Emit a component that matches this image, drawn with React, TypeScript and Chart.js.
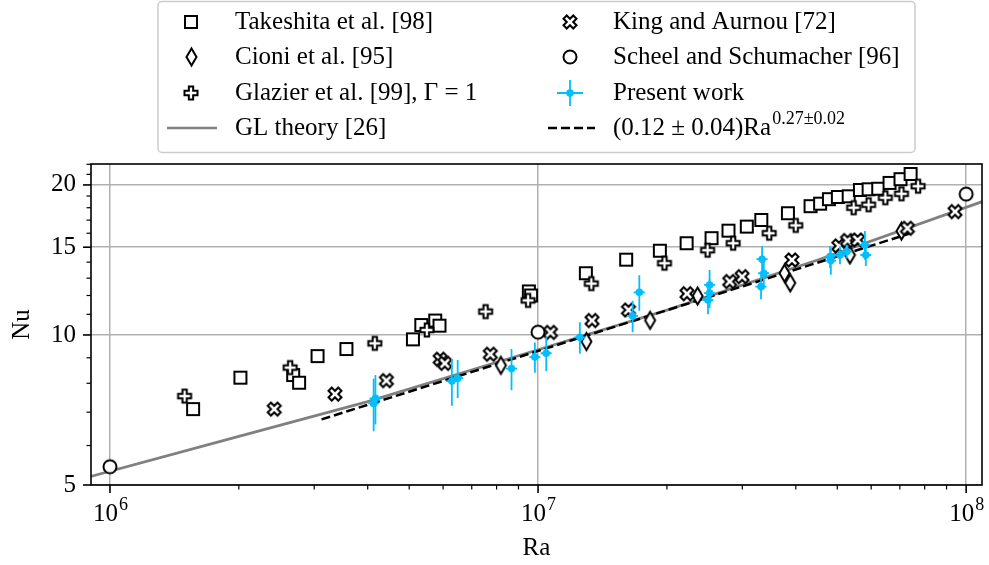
import React, { useEffect, useRef } from "react";
import { Chart, registerables } from "chart.js";

Chart.register(...registerables);

// ---------------- data ----------------
const takeshitaRa = [1.564e6, 2.017e6, 2.679e6, 2.766e6, 3.054e6, 3.567e6, 5.101e6, 5.336e6, 5.751e6, 5.885e6, 9.515e6, 9.632e6, 1.293e7, 1.606e7, 1.925e7, 2.223e7, 2.542e7, 2.785e7, 3.073e7, 3.322e7, 3.834e7, 4.33e7, 4.558e7, 4.78e7, 5.016e7, 5.315e7, 5.648e7, 5.917e7, 6.232e7, 6.623e7, 7.024e7, 7.418e7];
const takeshitaNu = [7.1, 8.21, 8.31, 8.02, 9.07, 9.37, 9.8, 10.47, 10.69, 10.44, 12.23, 12.0, 13.3, 14.16, 14.76, 15.28, 15.64, 16.19, 16.5, 17.01, 17.55, 18.13, 18.34, 18.73, 18.92, 18.98, 19.54, 19.6, 19.65, 20.19, 20.54, 21.04];

const cioniRa = [8.19e6, 1.297e7, 1.827e7, 2.359e7, 3.763e7, 3.882e7, 5.352e7, 7.061e7];
const cioniNu = [8.69, 9.7, 10.7, 11.97, 13.3, 12.72, 14.47, 16.16];

const glazierRa = [1.494e6, 2.636e6, 4.155e6, 5.498e6, 7.541e6, 9.478e6, 1.332e7, 1.974e7, 2.489e7, 2.856e7, 3.467e7, 3.998e7, 5.46e7, 5.917e7, 6.475e7, 7.061e7, 7.722e7];
const glazierNu = [7.54, 8.6, 9.62, 10.23, 11.14, 11.73, 12.68, 13.93, 14.79, 15.28, 16.0, 16.59, 18.0, 18.25, 18.85, 19.2, 19.88];

const kingRa = [2.419e6, 3.354e6, 4.424e6, 5.907e6, 6.054e6, 7.734e6, 1.069e7, 1.337e7, 1.626e7, 2.228e7, 2.804e7, 2.997e7, 3.917e7, 5.043e7, 5.282e7, 5.578e7, 7.292e7, 9.419e7];
const kingNu = [7.1, 7.61, 8.1, 8.94, 8.77, 9.15, 10.12, 10.69, 11.22, 12.1, 12.8, 13.09, 14.14, 15.09, 15.47, 15.51, 16.37, 17.68];

const scheelRa = [1e6, 1e7, 1e8];
const scheelNu = [5.44, 10.13, 19.17];

const presentRa = [4.13e6, 4.17e6, 6.29e6, 6.49e6, 8.67e6, 9.83e6, 1.045e7, 1.252e7, 1.663e7, 1.724e7, 2.516e7, 2.516e7, 2.494e7, 3.337e7, 3.367e7, 3.318e7, 4.81e7, 4.83e7, 5.073e7, 5.259e7, 5.8e7, 5.83e7];
const presentNu = [7.29, 7.46, 8.08, 8.19, 8.56, 9.03, 9.19, 9.89, 10.92, 12.18, 12.6, 12.13, 11.75, 14.19, 13.3, 12.5, 14.36, 14.1, 14.47, 14.7, 15.16, 14.47];
const presentNuErr = [0.88, 0.85, 0.87, 0.72, 0.81, 0.63, 0.72, 0.72, 0.79, 1.0, 0.9, 0.8, 0.75, 0.9, 0.85, 0.7, 0.73, 0.9, 0.6, 0.47, 1.0, 0.72];
const presentRaErr = [1.2e5, 1.3e5, 1.9e5, 1.9e5, 2.6e5, 2.9e5, 3.1e5, 3.8e5, 5.0e5, 5.2e5, 7.5e5, 7.5e5, 7.5e5, 1.0e6, 1.0e6, 1.0e6, 1.4e6, 1.4e6, 1.5e6, 1.6e6, 1.7e6, 1.7e6];

const glRa = [9.0e5, 2e6, 4e6, 1e7, 2e7, 4.5e7, 1.09e8];
const glNu = [5.2, 6.26, 7.35, 9.34, 11.22, 14.14, 18.51];

const fitRa = [3.12e6, 7.37e7];
const fitNu = [6.77, 15.97];

const xTickValues = [9e5, 1e6, 2e6, 3e6, 4e6, 5e6, 6e6, 7e6, 8e6, 9e6, 1e7, 2e7, 3e7, 4e7, 5e7, 6e7, 7e7, 8e7, 9e7, 1e8];
const xMajorTicks = [1e6, 1e7, 1e8];
const xMajorExponents = ["6", "7", "8"];
const yTickValues = [5, 6, 7, 8, 9, 10, 11, 12, 13, 14, 15, 16, 17, 18, 19, 20, 21, 22];
const yMajorTicks = [5, 10, 15, 20];

const X_MIN = 9.03e5;
const X_MAX = 1.089e8;
const Y_MIN = 5;
const Y_MAX = 22.03;

// ---------------- styles ----------------
const FONT = '"Liberation Serif", "DejaVu Serif", serif';
const FS = 25;
const BLUE = "#00bfff";
const GRID = "#b0b0b0";

function makeMarker(kind: string): HTMLCanvasElement {
  const c = document.createElement("canvas");
  let w = 18, h = 18;
  if (kind === "diamond") { w = 15; h = 22; }
  c.width = w; c.height = h;
  const g = c.getContext("2d") as CanvasRenderingContext2D;
  const cx = w / 2, cy = h / 2;
  g.beginPath();
  if (kind === "square") {
    g.rect(cx - 6, cy - 6, 12, 12);
  } else if (kind === "diamond") {
    g.moveTo(cx, cy - 8.5); g.lineTo(cx + 5, cy); g.lineTo(cx, cy + 8.5); g.lineTo(cx - 5, cy); g.closePath();
  } else if (kind === "circle") {
    g.arc(cx, cy, 6.5, 0, Math.PI * 2);
  } else if (kind === "plus") {
    const k = 13 / 6;
    const pts = [[-1, -3], [1, -3], [1, -1], [3, -1], [3, 1], [1, 1], [1, 3], [-1, 3], [-1, 1], [-3, 1], [-3, -1], [-1, -1]];
    pts.forEach((p, i) => (i ? g.lineTo(cx + p[0] * k, cy + p[1] * k) : g.moveTo(cx + p[0] * k, cy + p[1] * k)));
    g.closePath();
  } else if (kind === "x") {
    const k = 13 / 4;
    const pts = [[-1, -2], [0, -1], [1, -2], [2, -1], [1, 0], [2, 1], [1, 2], [0, 1], [-1, 2], [-2, 1], [-1, 0], [-2, -1]];
    pts.forEach((p, i) => (i ? g.lineTo(cx + p[0] * k, cy + p[1] * k) : g.moveTo(cx + p[0] * k, cy + p[1] * k)));
    g.closePath();
  }
  g.fillStyle = "#fff";
  g.fill();
  g.lineWidth = 2;
  g.strokeStyle = "#000";
  g.lineJoin = "miter";
  g.stroke();
  return c;
}

const pts = (xs: number[], ys: number[]) => xs.map((x, i) => ({ x, y: ys[i] }));

export default function App() {
  const ref = useRef<HTMLCanvasElement | null>(null);

  useEffect(() => {
    const canvas = ref.current;
    if (!canvas) return;
    const mSquare = makeMarker("square");
    const mDiamond = makeMarker("diamond");
    const mCircle = makeMarker("circle");
    const mPlus = makeMarker("plus");
    const mX = makeMarker("x");

    const errorBarPlugin = {
      id: "errbars",
      beforeDatasetDraw(chart: any, args: any) {
        const ds = chart.data.datasets[args.index];
        if (ds.label !== "Present work") return;
        const { ctx, chartArea } = chart;
        const xs = chart.scales.x, ys = chart.scales.y;
        ctx.save();
        ctx.beginPath();
        ctx.rect(chartArea.left, chartArea.top, chartArea.right - chartArea.left, chartArea.bottom - chartArea.top);
        ctx.clip();
        ctx.strokeStyle = BLUE;
        ctx.lineWidth = 1.8;
        presentRa.forEach((ra, i) => {
          const nu = presentNu[i];
          const px = xs.getPixelForValue(ra);
          const py = ys.getPixelForValue(nu);
          ctx.beginPath();
          ctx.moveTo(px, ys.getPixelForValue(nu + presentNuErr[i]));
          ctx.lineTo(px, ys.getPixelForValue(nu - presentNuErr[i]));
          ctx.moveTo(xs.getPixelForValue(ra - presentRaErr[i]), py);
          ctx.lineTo(xs.getPixelForValue(ra + presentRaErr[i]), py);
          ctx.stroke();
        });
        ctx.restore();
      },
    };

    const decorPlugin = {
      id: "decor",
      afterDraw(chart: any) {
        const { ctx, chartArea } = chart;
        const { left, right, top, bottom } = chartArea;
        const xs = chart.scales.x, ys = chart.scales.y;
        ctx.save();
        // spines
        ctx.strokeStyle = "#000";
        ctx.lineWidth = 1.6;
        ctx.strokeRect(left, top, right - left, bottom - top);
        // x ticks
        xTickValues.forEach((v) => {
          const px = xs.getPixelForValue(v);
          if (px < left - 0.5 || px > right + 0.5) return;
          const major = xMajorTicks.includes(v);
          ctx.lineWidth = major ? 1.6 : 1.2;
          ctx.beginPath();
          ctx.moveTo(px, bottom);
          ctx.lineTo(px, bottom + (major ? 8 : 4.5));
          ctx.stroke();
        });
        // y ticks
        yTickValues.forEach((v) => {
          const py = ys.getPixelForValue(v);
          if (py < top - 0.5 || py > bottom + 0.5) return;
          const major = yMajorTicks.includes(v);
          ctx.lineWidth = major ? 1.6 : 1.2;
          ctx.beginPath();
          ctx.moveTo(left, py);
          ctx.lineTo(left - (major ? 8 : 4.5), py);
          ctx.stroke();
        });
        // x tick labels (10^n)
        ctx.fillStyle = "#000";
        ctx.textBaseline = "alphabetic";
        ctx.textAlign = "left";
        xMajorTicks.forEach((v, i) => {
          const px = xs.getPixelForValue(v);
          ctx.font = `${FS}px ${FONT}`;
          const wb = ctx.measureText("10").width;
          ctx.font = `${Math.round(FS * 0.7)}px ${FONT}`;
          const we = ctx.measureText(xMajorExponents[i]).width;
          const x0 = px - (wb + we) / 2;
          ctx.font = `${FS}px ${FONT}`;
          ctx.fillText("10", x0, bottom + 36);
          ctx.font = `${Math.round(FS * 0.7)}px ${FONT}`;
          ctx.fillText(xMajorExponents[i], x0 + wb + 1, bottom + 25);
        });

        // legend
        const lx = 158, ly = 1.5, lw = 757, lh = 151, r = 4;
        ctx.beginPath();
        ctx.moveTo(lx + r, ly);
        ctx.arcTo(lx + lw, ly, lx + lw, ly + lh, r);
        ctx.arcTo(lx + lw, ly + lh, lx, ly + lh, r);
        ctx.arcTo(lx, ly + lh, lx, ly, r);
        ctx.arcTo(lx, ly, lx + lw, ly, r);
        ctx.closePath();
        ctx.fillStyle = "rgba(255,255,255,0.85)";
        ctx.fill();
        ctx.strokeStyle = "#cccccc";
        ctx.lineWidth = 1.5;
        ctx.stroke();

        const rows = [22, 57, 93, 128];
        const c1m = 191, c1t = 235, c2m = 570, c2t = 613;
        const drawImg = (img: HTMLCanvasElement, x: number, y: number) =>
          ctx.drawImage(img, Math.round(x - img.width / 2), Math.round(y - img.height / 2));
        drawImg(mSquare, c1m, rows[0]);
        drawImg(mDiamond, c1m, rows[1]);
        drawImg(mPlus, c1m, rows[2]);
        ctx.strokeStyle = "#808080";
        ctx.lineWidth = 2.5;
        ctx.setLineDash([]);
        ctx.beginPath();
        ctx.moveTo(167, rows[3]);
        ctx.lineTo(217, rows[3]);
        ctx.stroke();
        drawImg(mX, c2m, rows[0]);
        drawImg(mCircle, c2m, rows[1]);
        // present work handle
        ctx.strokeStyle = BLUE;
        ctx.lineWidth = 1.8;
        ctx.beginPath();
        ctx.moveTo(c2m - 13, rows[2]);
        ctx.lineTo(c2m + 13, rows[2]);
        ctx.moveTo(c2m, rows[2] - 13);
        ctx.lineTo(c2m, rows[2] + 13);
        ctx.stroke();
        ctx.fillStyle = BLUE;
        ctx.beginPath();
        ctx.arc(c2m, rows[2], 3.8, 0, Math.PI * 2);
        ctx.fill();
        // fit handle
        ctx.strokeStyle = "#000";
        ctx.lineWidth = 2.5;
        ctx.setLineDash([9, 4]);
        ctx.beginPath();
        ctx.moveTo(548, rows[3]);
        ctx.lineTo(595, rows[3]);
        ctx.stroke();
        ctx.setLineDash([]);

        ctx.fillStyle = "#000";
        ctx.textBaseline = "middle";
        ctx.textAlign = "left";
        ctx.font = `${FS}px ${FONT}`;
        ctx.fillText("Takeshita et al. [98]", c1t, rows[0]);
        ctx.fillText("Cioni et al. [95]", c1t, rows[1]);
        ctx.fillText("Glazier et al. [99], Γ = 1", c1t, rows[2]);
        ctx.fillText("GL theory [26]", c1t, rows[3]);
        ctx.fillText("King and Aurnou [72]", c2t, rows[0]);
        ctx.fillText("Scheel and Schumacher [96]", c2t, rows[1]);
        ctx.fillText("Present work", c2t, rows[2]);
        const base = "(0.12 ± 0.04)Ra";
        ctx.fillText(base, c2t, rows[3]);
        const bw = ctx.measureText(base).width;
        ctx.font = `${Math.round(FS * 0.7)}px ${FONT}`;
        ctx.fillText("0.27±0.02", c2t + bw + 1, rows[3] - 9);
        ctx.restore();
      },
    };

    const chart = new Chart(canvas, {
      type: "scatter",
      data: {
        datasets: [
          {
            label: "Present work",
            data: pts(presentRa, presentNu),
            pointStyle: "circle",
            pointRadius: 3.8,
            backgroundColor: BLUE,
            borderWidth: 0,
          },
          { label: "Scheel and Schumacher [96]", data: pts(scheelRa, scheelNu), pointStyle: mCircle, pointRadius: 6 },
          { label: "King and Aurnou [72]", data: pts(kingRa, kingNu), pointStyle: mX, pointRadius: 6 },
          { label: "Glazier et al. [99]", data: pts(glazierRa, glazierNu), pointStyle: mPlus, pointRadius: 6 },
          { label: "Cioni et al. [95]", data: pts(cioniRa, cioniNu), pointStyle: mDiamond, pointRadius: 6 },
          { label: "Takeshita et al. [98]", data: pts(takeshitaRa, takeshitaNu), pointStyle: mSquare, pointRadius: 6 },
          {
            label: "fit",
            data: pts(fitRa, fitNu),
            showLine: true,
            pointRadius: 0,
            borderColor: "#000",
            borderWidth: 2.5,
            borderDash: [9, 4],
            fill: false,
            tension: 0,
          },
          {
            label: "GL theory [26]",
            data: pts(glRa, glNu),
            showLine: true,
            pointRadius: 0,
            borderColor: "#808080",
            borderWidth: 2.8,
            fill: false,
            tension: 0,
          },
        ] as any,
      },
      options: {
        animation: false,
        responsive: true,
        maintainAspectRatio: false,
        layout: { padding: { top: 164, right: 3, bottom: 0, left: 0 } },
        plugins: { legend: { display: false }, tooltip: { enabled: false } },
        scales: {
          x: {
            type: "logarithmic",
            min: X_MIN,
            max: X_MAX,
            afterBuildTicks: (s: any) => {
              s.ticks = xTickValues.map((v) => ({ value: v }));
            },
            afterFit: (s: any) => {
              s.height = 80;
            },
            ticks: { display: false, autoSkip: false },
            grid: {
              drawTicks: false,
              lineWidth: 1.5,
              color: (c: any) => (c.tick && xMajorTicks.includes(c.tick.value) ? GRID : "rgba(0,0,0,0)"),
            },
            border: { display: false },
            title: {
              display: true,
              text: "Ra",
              color: "#000",
              font: { family: FONT, size: FS },
              padding: { top: 0, bottom: 2 },
            },
          },
          y: {
            type: "logarithmic",
            min: Y_MIN,
            max: Y_MAX,
            afterBuildTicks: (s: any) => {
              s.ticks = yTickValues.map((v) => ({ value: v }));
            },
            afterFit: (s: any) => {
              s.width = 91;
            },
            ticks: {
              autoSkip: false,
              padding: 15,
              color: "#000",
              font: { family: FONT, size: FS },
              callback: (v: any) => (yMajorTicks.includes(Number(v)) ? String(v) : ""),
            },
            grid: {
              drawTicks: false,
              lineWidth: 1.5,
              color: (c: any) => (c.tick && yMajorTicks.includes(c.tick.value) ? GRID : "rgba(0,0,0,0)"),
            },
            border: { display: false },
            title: {
              display: true,
              text: "Nu",
              color: "#000",
              font: { family: FONT, size: FS },
              padding: { top: 7, bottom: 0 },
            },
          },
        },
      } as any,
      plugins: [errorBarPlugin, decorPlugin],
    });
    return () => chart.destroy();
  }, []);

  return (
    <div style={{ position: "absolute", left: 0, top: 0, width: 989, height: 565 }}>
      <canvas ref={ref} />
    </div>
  );
}
